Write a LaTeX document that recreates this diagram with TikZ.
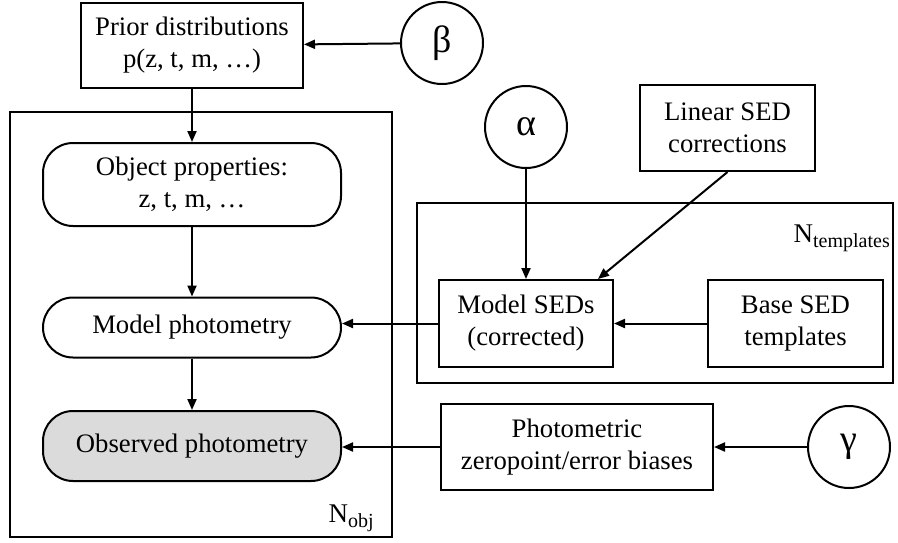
\documentclass[tikz,border=0pt]{standalone}
\usepackage{fontspec}
\setmainfont{Liberation Serif}
\usetikzlibrary{arrows.meta,calc}
\begin{document}
\begin{tikzpicture}[x=1pt,y=-1pt,
  every node/.style={font=\fontsize{26.7}{32}\selectfont, align=center, inner sep=0pt},
  sqbox/.style={draw, line width=2pt, rectangle},
  pill/.style={draw, line width=2pt, rounded corners=30pt},
  plate/.style={draw, line width=2pt},
  param/.style={draw, circle, line width=2pt, minimum size=82pt, font=\fontsize{38}{38}\selectfont},
  arr/.style={line width=2pt, -{Triangle[length=11pt,width=9pt]}},
  platelabel/.style={anchor=base east, font=\fontsize{27}{27}\selectfont}]
\useasboundingbox (0,0) rectangle (898,542);
% plates
\draw[plate] (10,112) rectangle (392,537);
\draw[plate] (417,203) rectangle (893,383);
\node[platelabel] (nobj) at (374,522) {N\raisebox{-5pt}{\fontsize{20}{20}\selectfont obj}};
\node[platelabel] (ntpl) at (890,242) {N\raisebox{-5pt}{\fontsize{20}{20}\selectfont templates}};
% nodes
\node[sqbox, minimum width=222pt, minimum height=85pt] (prior) at (192,45.5) {Prior distributions\\p(z, t, m, …)};
\node[param] (beta) at (442,43) {β};
\node[pill, minimum width=298pt, minimum height=83pt] (obj) at (192,184.5) {Object properties:\\z, t, m, …};
\node[pill, minimum width=298pt, minimum height=60pt] (mphot) at (192,327.5) {Model photometry};
\node[pill, fill=black!14, minimum width=298pt, minimum height=70pt] (ophot) at (192,446) {Observed photometry};
\node[param] (alpha) at (526,127) {α};
\node[sqbox, minimum width=175pt, minimum height=86pt] (linear) at (727.5,128) {Linear SED\\corrections};
\node[sqbox, minimum width=174pt, minimum height=87pt] (msed) at (526,323.5) {Model SEDs\\(corrected)};
\node[sqbox, minimum width=175pt, minimum height=87pt] (base) at (795.5,323.5) {Base SED\\templates};
\node[sqbox, minimum width=272pt, minimum height=86pt] (phot) at (577,447) {Photometric\\zeropoint/error biases};
\node[param] (gamma) at (849,447) {γ};
% connectors
\coordinate (msedtop) at ($(msed.north east)+(-16,0)$);
\draw[arr] (beta) -- (prior);
\draw[arr] (prior) -- (obj);
\draw[arr] (obj) -- (mphot);
\draw[arr] (mphot) -- (ophot);
\draw[arr] (alpha) -- (msed);
\draw[arr] (linear.south) -- (msedtop);
\draw[arr] (base) -- (msed);
\draw[arr] (msed.west) -- (mphot.east |- msed.west);
\draw[arr] (phot.west) -- (ophot.east |- phot.west);
\draw[arr] (gamma) -- (phot);
\end{tikzpicture}
\end{document}
